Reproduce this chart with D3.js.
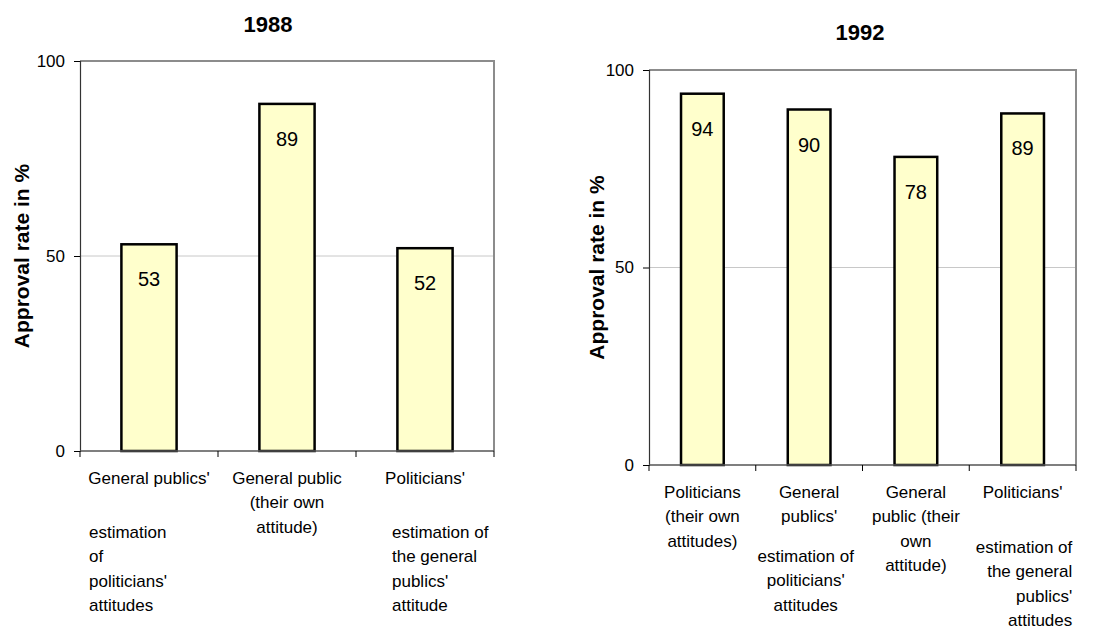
<!DOCTYPE html>
<html>
<head>
<meta charset="utf-8">
<script src="https://cdn.jsdelivr.net/npm/d3@7"></script>
<style>
  body { margin: 0; background: #fff; }
  svg { display: block; font-family: Arial, "Liberation Sans", sans-serif; }
</style>
</head>
<body>
<svg id="chart" width="1104" height="629"></svg>
<script>
// 1988 survey
const cats1988 = ['gp_est', 'gp_own', 'pol_est']
const values1988 = [53, 89, 52]
// each label: first block, then second block after a gap
const labels1988 = [
  [["General publics'"], ['estimation', 'of', "politicians'", 'attitudes']],
  [['General public', '(their own', 'attitude)'], []],
  [["Politicians'"], ['estimation of', 'the general', "publics'", 'attitude']]
]

// 1992 survey
const cats1992 = ['pol_own', 'gp_est', 'gp_own', 'pol_est']
const values1992 = [94, 90, 78, 89]
const labels1992 = [
  [['Politicians', '(their own', 'attitudes)'], []],
  [['General', "publics'"], ['estimation of', "politicians'", 'attitudes']],
  [['General', 'public (their', 'own', 'attitude)'], []],
  [["Politicians'"], ['estimation of', 'the general', "publics'", 'attitudes']]
]

const yTicks = [0, 50, 100]
const yTitle = 'Approval rate in %'

const svg = d3.select('#chart')

function drawChart(opt) {
  const g = svg.append('g')
  const x = d3.scaleBand().domain(opt.cats).range([opt.left, opt.right])
  const y = d3.scaleLinear().domain([0, 100]).range([opt.bottom, opt.top])

  // gridline at 50
  g.append('line')
    .attr('x1', opt.left).attr('x2', opt.right)
    .attr('y1', y(50)).attr('y2', y(50))
    .attr('stroke', '#c8c8c8').attr('stroke-width', 1)

  // frame top + right
  g.append('path')
    .attr('d', `M${opt.left},${y(100)}H${opt.right}V${opt.bottom}`)
    .attr('fill', 'none').attr('stroke', '#8c8c8c').attr('stroke-width', 2)

  // bars
  const bw = x.bandwidth() * 0.4
  g.selectAll('rect.bar')
    .data(opt.values)
    .enter().append('rect')
    .attr('class', 'bar')
    .attr('x', (d, i) => x(opt.cats[i]) + (x.bandwidth() - bw) / 2)
    .attr('y', (d) => y(d))
    .attr('width', bw)
    .attr('height', (d) => y(0) - y(d))
    .attr('fill', '#ffffcc')
    .attr('stroke', '#000')
    .attr('stroke-width', 2.5)

  g.selectAll('text.val')
    .data(opt.values)
    .enter().append('text')
    .attr('class', 'val')
    .attr('x', (d, i) => x(opt.cats[i]) + x.bandwidth() / 2)
    .attr('y', (d) => y(d) + 42)
    .attr('text-anchor', 'middle')
    .attr('font-size', 20)
    .text((d) => d)

  // y axis
  const yAxis = g.append('g')
    .attr('transform', `translate(${opt.left},0)`)
    .call(d3.axisLeft(y).tickValues(yTicks).tickSize(6).tickPadding(9))
  yAxis.select('.domain').attr('stroke', '#333').attr('stroke-width', 1.2)
  yAxis.selectAll('.tick line').attr('stroke', '#000')
  yAxis.selectAll('.tick text').attr('font-size', 17).attr('fill', '#000')
    .attr('font-family', 'Arial, "Liberation Sans", sans-serif')

  // x axis: ticks at band boundaries
  g.append('line')
    .attr('x1', opt.left).attr('x2', opt.right)
    .attr('y1', opt.bottom).attr('y2', opt.bottom)
    .attr('stroke', '#555').attr('stroke-width', 1.5)
  const bounds = opt.cats.map((c) => x(c)).concat([opt.right])
  g.selectAll('line.xtick')
    .data(bounds)
    .enter().append('line')
    .attr('class', 'xtick')
    .attr('x1', (d) => d).attr('x2', (d) => d)
    .attr('y1', opt.bottom).attr('y2', opt.bottom + 6)
    .attr('stroke', '#000')

  // category labels
  const lh = 24.4
  opt.labels.forEach((lab, i) => {
    const cx = x(opt.cats[i]) + x.bandwidth() / 2
    const y0 = opt.bottom + opt.labelTop
    lab[0].forEach((line, j) => {
      g.append('text')
        .attr('x', cx).attr('y', y0 + j * lh)
        .attr('text-anchor', 'middle')
        .attr('font-size', 17)
        .text(line)
    })
    const sub = opt.sub[i]
    lab[1].forEach((line, j) => {
      g.append('text')
        .attr('x', x(opt.cats[i]) + sub.dx)
        .attr('y', y0 + sub.dy + j * lh)
        .attr('text-anchor', sub.anchor)
        .attr('font-size', 17)
        .text(line)
    })
  })

  // title
  g.append('text')
    .attr('x', opt.titleX).attr('y', opt.titleY)
    .attr('text-anchor', 'middle')
    .attr('font-size', 22).attr('font-weight', 'bold')
    .text(opt.title)

  g.append('text')
    .attr('transform', `translate(${opt.yTitleX},${(opt.top + opt.bottom) / 2}) rotate(-90)`)
    .attr('text-anchor', 'middle')
    .attr('font-size', 21).attr('font-weight', 'bold')
    .text(yTitle)
}

drawChart({
  title: '1988', titleX: 268, titleY: 32,
  cats: cats1988, values: values1988, labels: labels1988,
  left: 80, right: 494, top: 61, bottom: 451,
  yTitleX: 29, labelTop: 33,
  sub: [
    { dx: 9, dy: 54, anchor: 'start' },
    { dx: 0, dy: 0, anchor: 'middle' },
    { dx: 36, dy: 54, anchor: 'start' }
  ]
})

drawChart({
  title: '1992', titleX: 860, titleY: 40,
  cats: cats1992, values: values1992, labels: labels1992,
  left: 649, right: 1076, top: 70, bottom: 465,
  yTitleX: 604, labelTop: 33,
  sub: [
    { dx: 0, dy: 0, anchor: 'middle' },
    { dx: 50, dy: 64, anchor: 'middle' },
    { dx: 0, dy: 0, anchor: 'middle' },
    { dx: 103, dy: 55, anchor: 'end' }
  ]
})
</script>
</body>
</html>
